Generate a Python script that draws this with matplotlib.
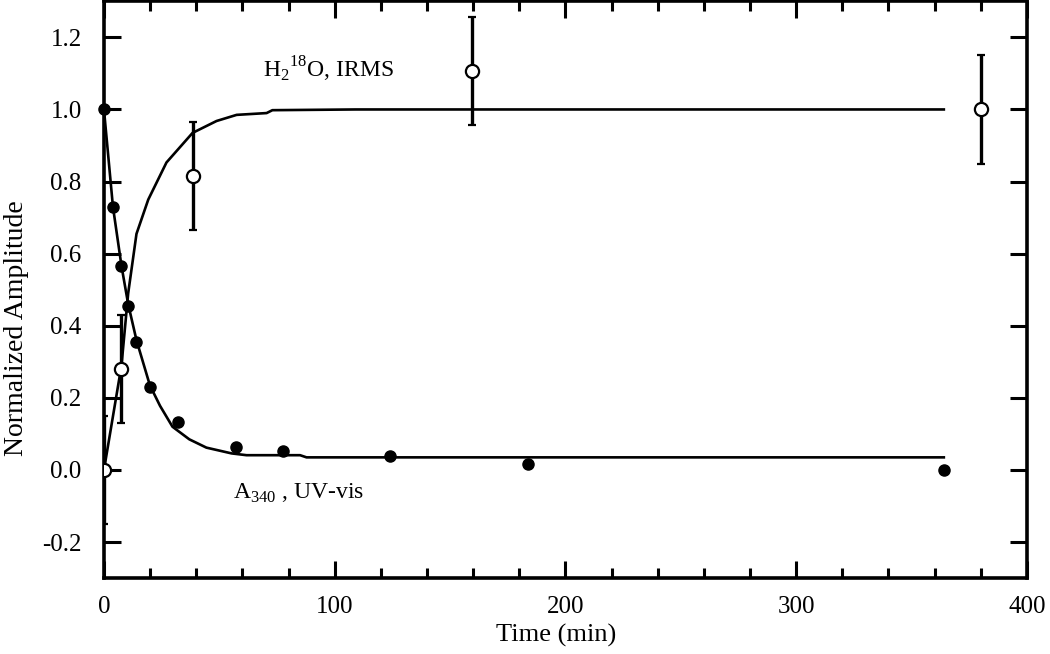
import matplotlib
matplotlib.use("Agg")
import matplotlib.pyplot as plt
from matplotlib.ticker import MultipleLocator, FormatStrFormatter

plt.rcParams['font.family'] = ['Liberation Serif', 'DejaVu Serif']
plt.rcParams['axes.unicode_minus'] = False
plt.rcParams['mathtext.fontset'] = 'custom'
plt.rcParams['mathtext.rm'] = 'Liberation Serif'

# A340, UV-vis data (filled circles)
uv_time = [0, 3.9, 7.6, 10.5, 14.1, 19.9, 32.2, 57.2, 77.4, 123.9, 183.9, 364]
uv_amp = [1.0, 0.73, 0.566, 0.455, 0.355, 0.231, 0.133, 0.064, 0.053, 0.039, 0.016, 0.0]

# A340 fit curve
uv_fit_time = [0, 3.9, 7.6, 10.5, 14.1, 19.9, 24.3, 29.7, 37, 44.4, 55.3, 61.8, 85, 87.8, 364]
uv_fit_amp = [1.0, 0.73, 0.566, 0.46, 0.36, 0.235, 0.178, 0.12, 0.085, 0.062, 0.046, 0.041, 0.041, 0.035, 0.035]

# H2 18O, IRMS data (open circles with error bars)
ir_time = [0, 7.6, 38.4, 159.5, 380]
ir_amp = [0.0, 0.28, 0.815, 1.107, 1.0]
ir_err = [0.15, 0.15, 0.15, 0.15, 0.15]

# H2 18O fit curve
ir_fit_time = [0, 7.6, 10.5, 14.1, 19.2, 27.1, 38.4, 48.8, 57.5, 70.5, 73, 109, 364]
ir_fit_amp = [0.0, 0.29, 0.49, 0.655, 0.75, 0.853, 0.935, 0.968, 0.985, 0.99, 0.998, 1.0, 1.0]

fig = plt.figure(figsize=(10.5, 6.54), dpi=100)
ax = fig.add_axes([0.099, 0.116, 0.879, 0.882])

ax.plot(uv_fit_time, uv_fit_amp, color='black', lw=1.9, zorder=2)
ax.plot(ir_fit_time, ir_fit_amp, color='black', lw=1.9, zorder=2)
ax.plot(uv_time, uv_amp, 'o', color='black', ms=8, zorder=3, clip_on=False)
ax.errorbar(ir_time, ir_amp, yerr=ir_err, fmt='o', mfc='white', mec='black',
            ms=9.5, mew=1.6, ecolor='black', elinewidth=2.4, capsize=3, capthick=2.4,
            zorder=3)

ax.text(69, 1.09, r'H$_2$$^{18}$O, IRMS', fontsize=17)
ax.text(56, -0.08, r'A$_{340}$ , UV-vis', fontsize=17)

ax.set_xlim(0, 400)
ax.set_ylim(-0.3, 1.3)
ax.xaxis.set_major_locator(MultipleLocator(100))
ax.xaxis.set_minor_locator(MultipleLocator(20))
ax.yaxis.set_major_locator(MultipleLocator(0.2))
ax.yaxis.set_major_formatter(FormatStrFormatter('%.1f'))

ax.tick_params(which='both', direction='in', top=True, right=True, width=2.2, labelsize=18)
ax.tick_params(axis='y', which='major', length=12, pad=16)
ax.tick_params(axis='x', which='major', length=12, pad=13)
ax.tick_params(which='minor', length=7)
for s in ax.spines.values():
    s.set_linewidth(2.6)

ax.set_xlabel('Time (min)', fontsize=19, labelpad=6)
ax.set_ylabel('Normalized Amplitude', fontsize=20)
ax.yaxis.set_label_coords(-0.081, 0.433)
ax.xaxis.set_label_coords(0.49, -0.08)
ax.xaxis.label.set_verticalalignment('top')

fig.savefig('out.png', dpi=100)
